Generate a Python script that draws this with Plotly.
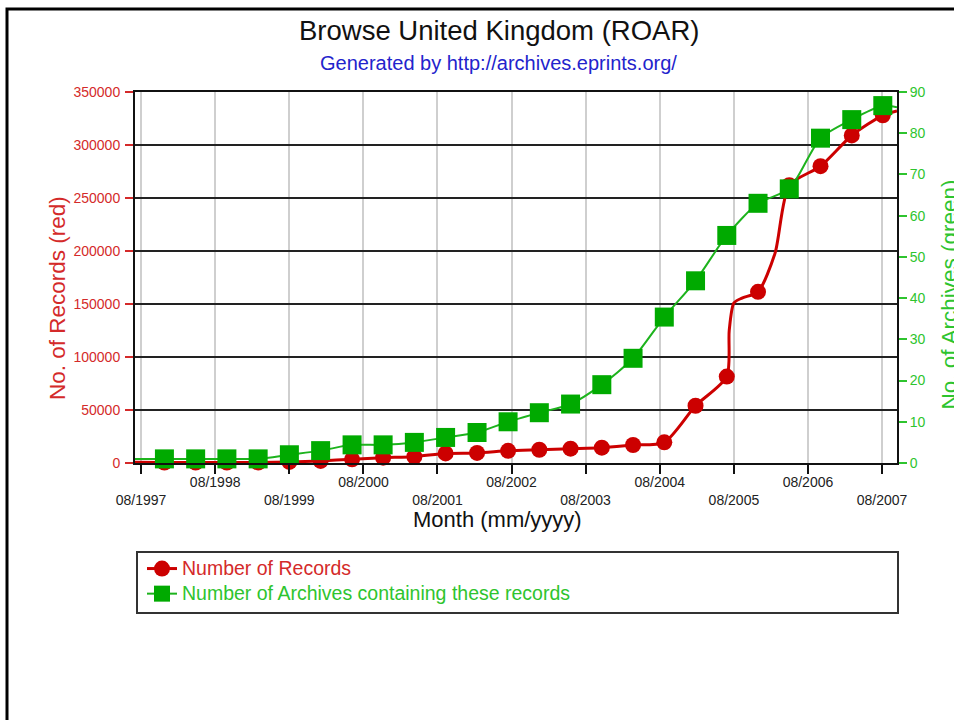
import plotly.graph_objects as go

# ---------------- data ----------------
dates = ["1997-11-24", "1998-04-27", "1998-09-28", "1999-03-01", "1999-08-02",
         "2000-01-03", "2000-06-06", "2000-11-06", "2001-04-09", "2001-09-10",
         "2002-02-12", "2002-07-15", "2002-12-16", "2003-05-19", "2003-10-20",
         "2004-03-22", "2004-08-23", "2005-01-24", "2005-06-27", "2005-11-28",
         "2006-05-01", "2006-10-02", "2007-03-05", "2007-08-05"]
records = [500, 500, 500, 500, 1000, 2000, 3500, 5000, 6000, 9000, 9500, 11500,
           12500, 13500, 14500, 17000, 19500, 54000, 81500, 161500, 262000,
           280000, 309000, 328000]
archives = [1, 1, 1, 1, 2, 3, 4.4, 4.4, 5, 6.2, 7.4, 10, 12.2, 14.3, 19, 25.4,
            35.4, 44.2, 55.2, 63, 66.5, 78.8, 83.3, 86.7]

# extra points of the drawn lines (between / beyond the markers)
rec_line_dates = ["1997-07-02", "2005-07-09", "2005-08-01", "2005-09-10",
                  "2006-02-20", "2007-10-14"]
rec_line_vals = [700, 125000, 151000, 155600, 198000, 332000]
arc_line_dates = ["1997-07-02", "2007-10-14"]
arc_line_vals = [1, 86.3]

x_range = ["1997-07-02", "2007-10-14"]
tick_labels = ["08/1997", "08/1998", "08/1999", "08/2000", "08/2001", "08/2002",
               "08/2003", "08/2004", "08/2005", "08/2006", "08/2007"]
left_ticks = [0, 50000, 100000, 150000, 200000, 250000, 300000, 350000]
right_ticks = [0, 10, 20, 30, 40, 50, 60, 70, 80, 90]

series_names = ["Number of Records", "Number of Archives containing these records"]

# ---------------- styling ----------------
FONT = "Liberation Sans, Arial, Helvetica, sans-serif"
RED = "#cc0000"
RED_TXT = "#d42a2a"
GREEN = "#00aa00"
GREEN_LINE = "#1db31d"
GREEN_TXT = "#2ec42e"


def merged(d1, v1, d2, v2):
    pts = sorted(zip(d1 + d2, v1 + v2))
    return [p[0] for p in pts], [p[1] for p in pts]


rec_x, rec_y = merged(dates, records, rec_line_dates, rec_line_vals)
arc_x, arc_y = merged(dates, archives, arc_line_dates, arc_line_vals)

tick_vals = [lab[3:] + "-" + lab[:2] + "-01" for lab in tick_labels]
tick_text = [("<br>" + lab) if i % 2 == 0 else lab for i, lab in enumerate(tick_labels)]

fig = go.Figure()

fig.add_trace(go.Scatter(x=rec_x, y=rec_y, mode="lines", yaxis="y",
                         line=dict(color=RED, width=3, shape="spline", smoothing=0.7),
                         showlegend=False, hoverinfo="skip"))
fig.add_trace(go.Scatter(x=dates, y=records, mode="markers", yaxis="y",
                         marker=dict(symbol="circle", size=16, color=RED),
                         cliponaxis=False, showlegend=False))
fig.add_trace(go.Scatter(x=arc_x, y=arc_y, mode="lines", yaxis="y2",
                         line=dict(color=GREEN_LINE, width=2, shape="spline", smoothing=0.7),
                         showlegend=False, hoverinfo="skip"))
fig.add_trace(go.Scatter(x=dates, y=archives, mode="markers", yaxis="y2",
                         marker=dict(symbol="square", size=19, color=GREEN),
                         cliponaxis=False, showlegend=False))

# legend entries
LEG_SPAN = '<span style="color:%s;font-size:19.5px">%s</span>'
fig.add_trace(go.Scatter(x=[None], y=[None], mode="lines+markers", yaxis="y",
                         name=LEG_SPAN % (RED_TXT, series_names[0]),
                         line=dict(color=RED, width=3),
                         marker=dict(symbol="circle", size=16, color=RED)))
fig.add_trace(go.Scatter(x=[None], y=[None], mode="lines+markers", yaxis="y2",
                         name=LEG_SPAN % (GREEN_TXT, series_names[1]),
                         line=dict(color=GREEN_LINE, width=2),
                         marker=dict(symbol="square", size=16, color=GREEN)))

L, R, T, B = 135, 57, 92, 257
W, H = 954, 720
PW, PH = W - L - R, H - T - B


def px_x(x):
    return (x - L) / PW


def px_y(y):
    return (H - B - y) / PH


fig.update_layout(
    width=W, height=H,
    margin=dict(l=L, r=R, t=T, b=B, pad=0),
    paper_bgcolor="white", plot_bgcolor="white",
    font=dict(family=FONT, size=14, color="#222222"),
    xaxis=dict(type="date", range=x_range, tickvals=tick_vals, ticktext=tick_text,
               ticks="outside", ticklen=9, tickwidth=1.5, tickcolor="#111111",
               tickfont=dict(size=14, color="#222222"), ticklabelstandoff=-4,
               showgrid=True, gridcolor="#cfcfcf", gridwidth=2,
               showline=True, linecolor="#111111", linewidth=2, mirror=True,
               zeroline=False, fixedrange=True),
    yaxis=dict(range=[0, 350000], tickvals=left_ticks, tickformat="d",
               ticks="outside", ticklen=8, tickwidth=1.5, tickcolor=RED_TXT,
               tickfont=dict(size=14, color=RED_TXT), ticklabelstandoff=2,
               showgrid=True, gridcolor="#222222", gridwidth=1.5,
               showline=True, linecolor="#111111", linewidth=2,
               zeroline=False, fixedrange=True),
    yaxis2=dict(range=[0, 90], tickvals=right_ticks, overlaying="y", side="right",
                ticks="outside", ticklen=8, tickwidth=1.5, tickcolor=GREEN_TXT,
                tickfont=dict(size=14, color=GREEN_TXT),
                showgrid=False, showline=True, linecolor="#111111", linewidth=2,
                zeroline=False, fixedrange=True),
    showlegend=True,
    legend=dict(x=px_x(142), y=px_y(551), xanchor="left", yanchor="top",
                bgcolor="rgba(0,0,0,0)", borderwidth=0,
                font=dict(size=17, family=FONT), tracegroupgap=0),
    annotations=[
        dict(text="Browse United Kingdom (ROAR)", x=px_x(498.5), y=px_y(31),
             xref="paper", yref="paper", showarrow=False, xanchor="center",
             yanchor="middle", font=dict(size=27.5, color="#111111")),
        dict(text="Generated by http://archives.eprints.org/", x=px_x(498), y=px_y(63),
             xref="paper", yref="paper", showarrow=False, xanchor="center",
             yanchor="middle", font=dict(size=20, color="#2323cc")),
        dict(text="Month (mm/yyyy)", x=px_x(497), y=px_y(519),
             xref="paper", yref="paper", showarrow=False, xanchor="center",
             yanchor="middle", font=dict(size=22, color="#111111")),
        dict(text="No. of Records (red)", x=px_x(57), y=px_y(298), textangle=-90,
             xref="paper", yref="paper", showarrow=False, xanchor="center",
             yanchor="middle", font=dict(size=22.5, color=RED_TXT)),
        dict(text="No. of Archives (green)", x=px_x(948.5), y=px_y(295), textangle=-90,
             xref="paper", yref="paper", showarrow=False, xanchor="center",
             yanchor="middle", font=dict(size=22.5, color=GREEN_TXT)),
    ],
    shapes=[
        # outer frame of the picture
        dict(type="rect", xref="paper", yref="paper",
             x0=px_x(7), x1=px_x(1010), y0=px_y(770), y1=px_y(9),
             line=dict(color="#000000", width=3), fillcolor="rgba(0,0,0,0)"),
        # legend box
        dict(type="rect", xref="paper", yref="paper",
             x0=px_x(137), x1=px_x(898), y0=px_y(613), y1=px_y(552),
             line=dict(color="#333333", width=2), fillcolor="white", layer="below"),
    ],
)

fig.write_html("out.html", config={"displayModeBar": False},
               post_script="document.body.style.margin='0px';document.body.style.overflow='hidden';")
